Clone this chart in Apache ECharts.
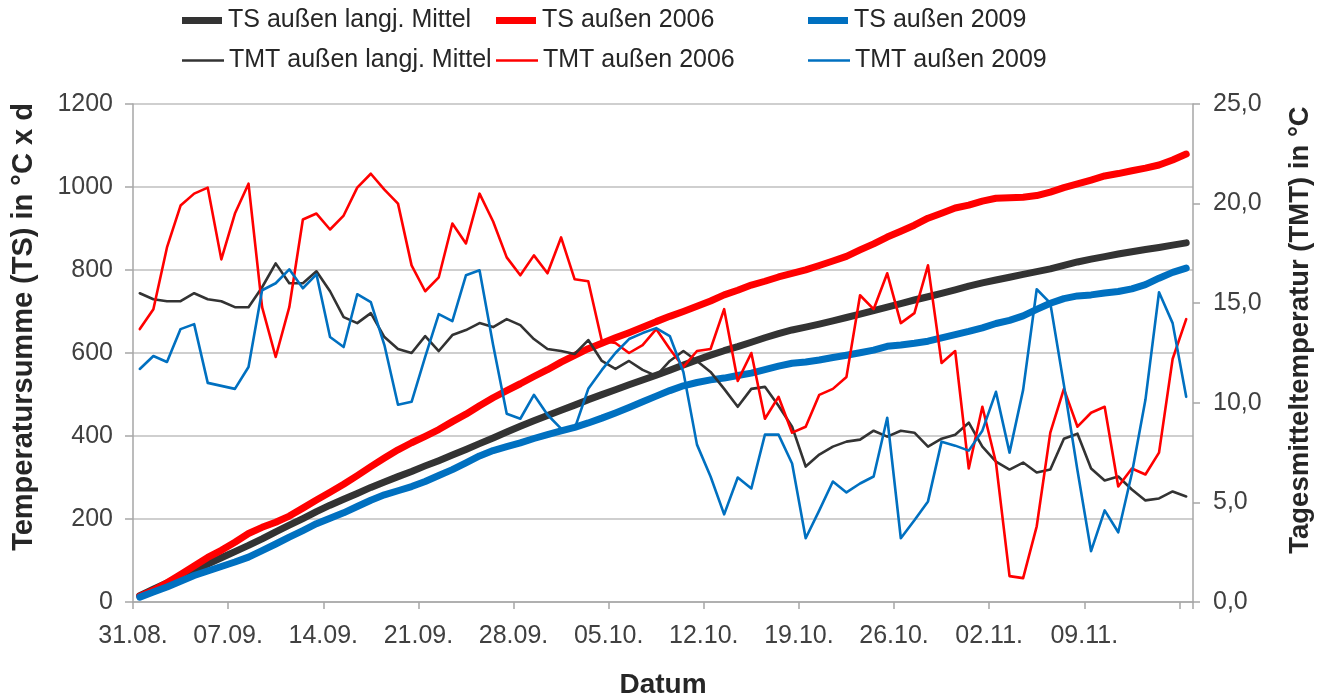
<!DOCTYPE html>
<html>
<head>
<meta charset="utf-8">
<title>Temperatursumme</title>
<script src="https://cdn.jsdelivr.net/npm/echarts@6/dist/echarts.min.js"></script>
<style>
    html, body { margin: 0; padding: 0; background: #fff; }
    #chart { width: 1327px; height: 700px; }
</style>
</head>
<body>
<div id="chart"></div>
<script>
// Tage 31.08. - 16.11.
var days = [
    '31.08.',
    '01.09.', '02.09.', '03.09.', '04.09.', '05.09.', '06.09.', '07.09.', '08.09.', '09.09.', '10.09.',
    '11.09.', '12.09.', '13.09.', '14.09.', '15.09.', '16.09.', '17.09.', '18.09.', '19.09.', '20.09.',
    '21.09.', '22.09.', '23.09.', '24.09.', '25.09.', '26.09.', '27.09.', '28.09.', '29.09.', '30.09.',
    '01.10.', '02.10.', '03.10.', '04.10.', '05.10.', '06.10.', '07.10.', '08.10.', '09.10.', '10.10.',
    '11.10.', '12.10.', '13.10.', '14.10.', '15.10.', '16.10.', '17.10.', '18.10.', '19.10.', '20.10.',
    '21.10.', '22.10.', '23.10.', '24.10.', '25.10.', '26.10.', '27.10.', '28.10.', '29.10.', '30.10.',
    '31.10.',
    '01.11.', '02.11.', '03.11.', '04.11.', '05.11.', '06.11.', '07.11.', '08.11.', '09.11.', '10.11.',
    '11.11.', '12.11.', '13.11.', '14.11.', '15.11.', '16.11.'
];
var tickLabels = ['31.08.', '07.09.', '14.09.', '21.09.', '28.09.', '05.10.', '12.10.', '19.10.', '26.10.', '02.11.', '09.11.'];

// Temperatursumme (linke Achse)
var tsMittel = [15.5, 30.7, 45.8, 60.9, 76.4, 91.6, 106.7, 121.5, 136.3, 152.1, 169.1, 185.1, 201.1, 217.7, 233.3, 247.6,
    261.6, 276.1, 289.4, 302.1, 314.6, 328.0, 340.6, 354.0, 367.6, 381.6, 395.4, 409.6, 423.5, 436.7, 449.4, 462.0,
    474.4, 487.6, 499.7, 511.4, 523.5, 535.1, 546.5, 558.6, 571.2, 583.3, 594.8, 605.5, 615.3, 626.0, 636.8, 646.7,
    655.5, 662.3, 669.7, 677.5, 685.5, 693.7, 702.3, 710.6, 719.2, 727.7, 735.5, 743.7, 752.1, 761.1, 768.9, 775.9,
    782.6, 789.6, 796.1, 802.7, 810.9, 819.4, 826.1, 832.2, 838.5, 844.1, 849.2, 854.4, 860.0, 865.3];
var ts2006 = [13.7, 28.4, 46.2, 66.1, 86.6, 107.4, 124.6, 144.1, 165.1, 179.9, 192.2, 207.0, 226.2, 245.7, 264.4, 283.8,
    304.6, 326.1, 346.8, 366.8, 383.7, 399.3, 415.6, 434.6, 452.6, 473.1, 492.2, 509.5, 525.9, 543.3, 559.8, 578.1,
    594.3, 610.4, 623.5, 636.5, 649.0, 661.9, 675.6, 688.3, 700.1, 712.7, 725.4, 740.1, 751.2, 763.7, 772.9, 783.2,
    791.7, 800.5, 810.9, 821.6, 832.9, 848.3, 863.0, 879.5, 893.5, 908.0, 924.9, 936.9, 949.5, 956.2, 966.0, 973.0,
    974.3, 975.5, 979.3, 987.8, 998.5, 1007.3, 1016.8, 1026.6, 1032.4, 1039.1, 1045.5, 1053.0, 1065.2, 1079.4];
var ts2009 = [11.7, 24.1, 36.1, 49.8, 63.8, 74.8, 85.6, 96.3, 108.1, 123.8, 139.8, 156.5, 172.2, 188.7, 202.0, 214.8,
    230.2, 245.3, 258.2, 268.1, 278.1, 290.4, 304.9, 319.0, 335.4, 352.0, 364.9, 374.4, 383.6, 394.0, 403.4, 412.1,
    420.8, 431.5, 443.1, 455.6, 468.8, 482.3, 496.1, 509.4, 521.0, 528.9, 535.2, 539.6, 545.8, 551.5, 559.9, 568.3,
    575.3, 578.5, 583.1, 589.1, 594.6, 600.6, 606.9, 616.1, 619.3, 623.4, 628.5, 636.5, 644.4, 652.0, 660.6, 671.1,
    678.6, 689.3, 705.0, 720.0, 730.9, 737.5, 740.0, 744.6, 748.1, 754.6, 764.7, 780.3, 794.3, 804.6];

// Tagesmitteltemperatur (rechte Achse)
var tmtMittel = [15.5, 15.2, 15.1, 15.1, 15.5, 15.2, 15.1, 14.8, 14.8, 15.8, 17.0, 16.0, 16.0, 16.6, 15.6, 14.3,
    14.0, 14.5, 13.3, 12.7, 12.5, 13.35, 12.6, 13.4, 13.65, 14.0, 13.8, 14.2, 13.9, 13.2, 12.7, 12.6,
    12.45, 13.15, 12.1, 11.7, 12.1, 11.65, 11.35, 12.1, 12.6, 12.1, 11.55, 10.7, 9.8, 10.7, 10.8, 9.85,
    8.8, 6.8, 7.4, 7.8, 8.05, 8.15, 8.6, 8.3, 8.6, 8.5, 7.8, 8.2, 8.4, 9.0, 7.8, 7.05,
    6.65, 7.0, 6.5, 6.65, 8.2, 8.45, 6.7, 6.1, 6.3, 5.65, 5.1, 5.2, 5.55, 5.3];
var tmt2006 = [13.7, 14.7, 17.8, 19.9, 20.5, 20.8, 17.2, 19.5, 21.0, 14.8, 12.3, 14.8, 19.2, 19.5, 18.7, 19.4,
    20.8, 21.5, 20.7, 20.0, 16.9, 15.6, 16.3, 19.0, 18.0, 20.5, 19.1, 17.3, 16.4, 17.4, 16.5, 18.3,
    16.2, 16.1, 13.1, 13.0, 12.5, 12.9, 13.7, 12.7, 11.8, 12.6, 12.7, 14.7, 11.1, 12.5, 9.2, 10.3,
    8.5, 8.8, 10.4, 10.7, 11.3, 15.4, 14.7, 16.5, 14.0, 14.5, 16.9, 12.0, 12.6, 6.7, 9.8, 7.0,
    1.3, 1.2, 3.8, 8.5, 10.7, 8.8, 9.5, 9.8, 5.8, 6.7, 6.4, 7.5, 12.2, 14.2];
var tmt2009 = [11.7, 12.35, 12.05, 13.7, 13.95, 11.0, 10.85, 10.7, 11.8, 15.65, 16.0, 16.7, 15.75, 16.45, 13.3, 12.8,
    15.45, 15.05, 12.9, 9.9, 10.05, 12.3, 14.45, 14.1, 16.4, 16.65, 12.9, 9.45, 9.2, 10.4, 9.4, 8.7,
    8.7, 10.7, 11.65, 12.5, 13.2, 13.5, 13.75, 13.35, 11.55, 7.9, 6.3, 4.4, 6.25, 5.7, 8.4, 8.4,
    6.95, 3.2, 4.6, 6.05, 5.5, 5.95, 6.3, 9.25, 3.2, 4.1, 5.05, 8.05, 7.85, 7.6, 8.6, 10.55,
    7.5, 10.65, 15.7, 15.0, 10.9, 6.6, 2.55, 4.6, 3.5, 6.45, 10.15, 15.55, 14.0, 10.3];

var FONT = '"Liberation Sans", Arial, sans-serif';
var BLACK = '#333333', RED = '#ff0000', BLUE = '#0070c0';
var THICK = 'path://M0,0h40v7h-40z';
var THIN = 'path://M0,0h40v2.6h-40z';

// Punkt mitten im Tag
function toPoints(values) {
    return values.map(function (v, i) { return [i + 0.5, v]; });
}

function makeSeries(name, values, color, axis, width) {
    return {
        name: name,
        type: 'line',
        yAxisIndex: axis,
        data: toPoints(values),
        showSymbol: false,
        symbol: 'none',
        z: width > 4 ? 2 : 3,
        itemStyle: { color: color },
        lineStyle: { color: color, width: width, cap: 'round', join: 'round' }
    };
}

function makeLegend(name, icon, left, top) {
    return {
        data: [{ name: name, icon: icon }],
        left: left,
        top: top,
        itemWidth: 42,
        itemHeight: 7,
        selectedMode: false,
        textStyle: { fontFamily: FONT, fontSize: 25, color: '#262626' }
    };
}

function GenChart() {
    var myChart = echarts.init(document.getElementById('chart'));
    var labelStyle = { fontFamily: FONT, fontSize: 25, color: '#404040' };
    var nameStyle = { fontFamily: FONT, fontWeight: 'bold', color: '#262626' };
    var option = {
        animation: false,
        backgroundColor: '#ffffff',
        textStyle: { fontFamily: FONT },
        legend: [
            makeLegend('TS außen langj. Mittel', THICK, 177, 3),
            makeLegend('TMT außen langj. Mittel', THIN, 177, 43),
            makeLegend('TS außen 2006', THICK, 491, 3),
            makeLegend('TMT außen 2006', THIN, 491, 43),
            makeLegend('TS außen 2009', THICK, 803, 3),
            makeLegend('TMT außen 2009', THIN, 803, 43)
        ],
        grid: { left: 133, right: 134, top: 104, bottom: 98, outerBoundsMode: 'none' },
        xAxis: {
            type: 'value',
            min: 0,
            max: days.length,
            interval: 7,
            name: 'Datum',
            nameLocation: 'middle',
            nameGap: 69,
            nameTextStyle: Object.assign({ fontSize: 28 }, nameStyle),
            axisLine: { lineStyle: { color: '#a6a6a6', width: 1.5 } },
            axisTick: { show: true, length: 7, lineStyle: { color: '#a6a6a6', width: 1.5 } },
            splitLine: { show: false },
            axisLabel: Object.assign({
                margin: 22,
                showMaxLabel: true,
                formatter: function (v) { return tickLabels[v / 7] || ''; }
            }, labelStyle)
        },
        yAxis: [
            {
                type: 'value',
                min: 0,
                max: 1200,
                interval: 200,
                name: 'Temperatursumme (TS) in °C x d',
                nameLocation: 'middle',
                nameGap: 95,
                nameTextStyle: Object.assign({ fontSize: 29, padding: [0, 0, 0, 52] }, nameStyle),
                axisLine: { show: true, lineStyle: { color: '#a6a6a6', width: 1.5 } },
                axisTick: { show: true, length: 8, lineStyle: { color: '#a6a6a6', width: 1.5 } },
                splitLine: { lineStyle: { color: '#bfbfbf', width: 1.5 } },
                axisLabel: Object.assign({
                    margin: 20,
                    formatter: function (v) { return String(v); }
                }, labelStyle)
            },
            {
                type: 'value',
                min: 0,
                max: 25,
                interval: 5,
                name: 'Tagesmitteltemperatur (TMT) in °C',
                nameLocation: 'middle',
                nameGap: 93,
                nameTextStyle: Object.assign({ fontSize: 27.5, padding: [0, 0, 0, 46] }, nameStyle),
                axisLine: { show: true, lineStyle: { color: '#a6a6a6', width: 1.5 } },
                axisTick: { show: true, length: 7, lineStyle: { color: '#a6a6a6', width: 1.5 } },
                splitLine: { show: false },
                axisLabel: Object.assign({
                    margin: 20,
                    formatter: function (v) { return v.toFixed(1).replace('.', ','); }
                }, labelStyle)
            }
        ],
        series: [
            makeSeries('TS außen langj. Mittel', tsMittel, BLACK, 0, 7),
            makeSeries('TS außen 2006', ts2006, RED, 0, 7),
            makeSeries('TS außen 2009', ts2009, BLUE, 0, 7),
            makeSeries('TMT außen langj. Mittel', tmtMittel, BLACK, 1, 2.6),
            makeSeries('TMT außen 2006', tmt2006, RED, 1, 2.6),
            makeSeries('TMT außen 2009', tmt2009, BLUE, 1, 2.6)
        ]
    };
    myChart.setOption(option);
}

GenChart();
</script>
</body>
</html>
